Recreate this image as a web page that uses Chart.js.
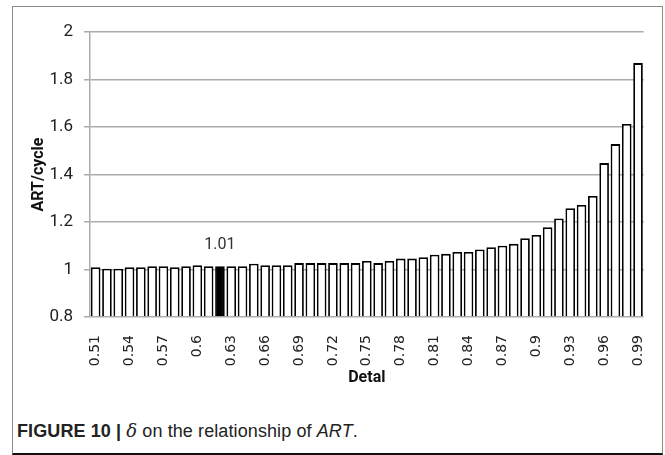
<!DOCTYPE html>
<html>
<head>
<meta charset="utf-8">
<script src="https://cdn.jsdelivr.net/npm/chart.js@4"></script>
<style>
  body { margin: 0; background: #fff; }
  #frame {
    position: absolute; left: 12px; top: 6px; width: 649px; height: 446px;
    border: 1.5px solid #8a8a8a; border-bottom: 2px solid #111;
  }
  #chartWrap { position: absolute; left: 0; top: 0; width: 665px; height: 400px; }
  #caption {
    position: absolute; left: 17px; top: 420px;
    font-family: "Liberation Sans", Arial, sans-serif; font-size: 18px; color: #222;
    letter-spacing: 0.1px; white-space: nowrap;
  }
  #caption b { font-weight: bold; }
  #caption .delta { font-family: "DejaVu Serif", serif; font-style: italic; }
</style>
</head>
<body>
<div id="frame"></div>
<div id="chartWrap"><canvas id="artChart" width="665" height="400"></canvas></div>
<div id="caption"><b>FIGURE 10 |</b> <span class="delta">δ</span> on the relationship of <i>ART</i>.</div>
<script>
// --- Data ---
const deltas = [0.51, 0.52, 0.53, 0.54, 0.55, 0.56, 0.57, 0.58, 0.59, 0.6,
                0.61, 0.62, 0.63, 0.64, 0.65, 0.66, 0.67, 0.68, 0.69, 0.7,
                0.71, 0.72, 0.73, 0.74, 0.75, 0.76, 0.77, 0.78, 0.79, 0.8,
                0.81, 0.82, 0.83, 0.84, 0.85, 0.86, 0.87, 0.88, 0.89, 0.9,
                0.91, 0.92, 0.93, 0.94, 0.95, 0.96, 0.97, 0.98, 0.99];
const artPerCycle = [1.010, 1.003, 1.003, 1.010, 1.010, 1.014, 1.014, 1.010, 1.014, 1.018,
                     1.014, 1.014, 1.014, 1.014, 1.024, 1.018, 1.018, 1.018, 1.027, 1.027,
                     1.027, 1.027, 1.027, 1.027, 1.036, 1.027, 1.036, 1.046, 1.046, 1.052,
                     1.062, 1.066, 1.074, 1.074, 1.084, 1.094, 1.100, 1.108, 1.132, 1.145,
                     1.178, 1.215, 1.258, 1.272, 1.310, 1.448, 1.528, 1.613, 1.869];
const highlightIndex = 11;      // delta = 0.62
const highlightLabel = '1.01';
const yMin = 0.8, yMax = 2, yStep = 0.2;

const barColors = artPerCycle.map((v, i) => i === highlightIndex ? '#000' : '#fff');

// draws the "1.01" label above the highlighted bar
const highlightLabelPlugin = {
    id: 'highlightLabel',
    afterDatasetsDraw(chart) {
        const bar = chart.getDatasetMeta(0).data[highlightIndex];
        if (!bar) return;
        const c = chart.ctx;
        c.save();
        c.font = '16px Roboto, sans-serif';
        c.fillStyle = '#333';
        c.textAlign = 'center';
        c.textBaseline = 'middle';
        c.fillText(highlightLabel, bar.x, bar.y - 21);
        c.restore();
    }
};

const ctx = document.getElementById('artChart').getContext('2d');
new Chart(ctx, {
    type: 'bar',
    data: {
        labels: deltas.map(String),
        datasets: [{
            data: artPerCycle,
            base: yMin,
            backgroundColor: barColors,
            borderColor: '#000',
            borderWidth: 1.8,
            barPercentage: 0.85,
            categoryPercentage: 1
        }]
    },
    options: {
        responsive: false,
        animation: false,
        layout: { padding: { left: 20, right: 17, top: 32, bottom: 0 } },
        plugins: { legend: { display: false }, tooltip: { enabled: false } },
        scales: {
            x: {
                grid: { display: false },
                border: { display: false },
                afterFit: (s) => { s.height = 83; },
                ticks: {
                    autoSkip: false,
                    minRotation: 90,
                    maxRotation: 90,
                    padding: 10,
                    color: '#222',
                    font: { family: 'DejaVu Sans', size: 14 },
                    callback: function(val, i) { return i % 3 === 0 ? this.getLabelForValue(val) : ''; }
                },
                title: {
                    display: true, text: 'Detal', color: '#111',
                    font: { family: 'Roboto', size: 16, weight: 'bold' },
                    padding: { top: 4, bottom: 12 }
                }
            },
            y: {
                min: yMin,
                max: yMax,
                afterFit: (s) => { s.width = 70; },
                grid: { color: '#ababab', lineWidth: 1.5, tickLength: 6 },
                border: { color: '#ababab', width: 1.5 },
                ticks: {
                    stepSize: yStep,
                    padding: 11,
                    color: '#222',
                    font: { family: 'Roboto', size: 17 },
                    callback: (v) => String(Number(v.toFixed(1)))
                },
                title: {
                    display: true, text: 'ART/cycle', color: '#111',
                    font: { family: 'Roboto', size: 16, weight: 'bold' },
                    padding: { top: 9, bottom: 0 }
                }
            }
        }
    },
    plugins: [highlightLabelPlugin]
});
</script>
</body>
</html>
